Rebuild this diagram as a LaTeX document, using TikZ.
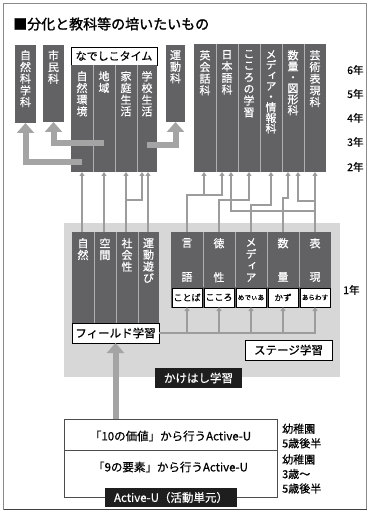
\documentclass[tikz,border=0pt]{standalone}
\usepackage{fontspec}
\setmainfont{Noto Sans CJK JP}
\newfontfamily\cjk[FakeBold=0.5]{Noto Sans CJK JP}
\newfontfamily\cjkv[RawFeature=+vert,FakeBold=0.6]{Noto Sans CJK JP}
\newfontfamily\cjkb[FakeBold=1.5]{Noto Sans CJK JP}
\usetikzlibrary{arrows.meta}
\definecolor{dk}{HTML}{626265}
\definecolor{panelc}{HTML}{D7D7D7}
\definecolor{thickc}{HTML}{A4A4A4}
\definecolor{thinc}{HTML}{9C9C9C}
\definecolor{divc}{HTML}{B0B0B0}
\definecolor{framec}{HTML}{8A8A8A}
\definecolor{blk}{HTML}{1E1E1E}
\newcommand\myfs[2]{\fontsize{#1}{#2}\selectfont}
\tikzset{
  dkbox/.style={fill=dk, draw=none, anchor=north west, inner sep=0pt, outer sep=0pt},
  vt/.style={text=white, font=\cjkv\myfs{11}{11.7}, align=center, anchor=north, inner sep=0pt},
  wbox/.style={fill=white, draw=black, line width=0.7pt, inner sep=0pt, outer sep=0pt, anchor=north west, font=\cjk\myfs{11.5}{12}},
  bbox/.style={fill=blk, text=white, inner sep=0pt, outer sep=0pt, anchor=north west, font=\cjk\myfs{11.5}{12}},
  lbox/.style={fill=white, draw=black, line width=0.6pt, inner sep=0pt, outer sep=0pt, anchor=north west, minimum width=30pt, minimum height=19pt},
  bigarr/.style={draw=thickc, line width=6pt, -{Triangle[width=17pt,length=10pt]}},
  conn/.style={draw=thinc, line width=1.8pt},
  conna/.style={conn, -{Triangle[width=5pt,length=4pt]}},
  divl/.style={draw=divc, line width=0.8pt},
  yr/.style={font=\cjk\myfs{10.5}{12}, anchor=west, inner sep=0pt},
  plain/.style={font=\cjk\myfs{11.5}{14.5}, inner sep=0pt},
}
\begin{document}
\begin{tikzpicture}[x=1pt,y=-1pt]
\useasboundingbox (0,0) rectangle (370,521);
\fill[white] (0,0) rectangle (370,521);
% frame
\draw[framec, line width=0.8pt] (3.5,3.5) rectangle (366.5,509.5);
\draw[blk!85, line width=1.4pt] (3.5,509.5) -- (366.5,509.5);
% title
\node[font=\cjkb\myfs{14}{16}, anchor=west, inner sep=0pt] (title) at (13,24) {■分化と教科等の培いたいもの};

% light panel
\fill[panelc] (64,223) rectangle (340,377);

% ---------- top-left boxes ----------
\node[dkbox, minimum width=21pt, minimum height=78pt] (sk) at (15,45) {};
\node[vt] (skT) at (25.5,50) {自\\然\\科\\学\\科};
\node[dkbox, minimum width=21pt, minimum height=77pt] (sm) at (43,45) {};
\node[vt] (smT) at (53.5,50) {市\\民\\科};
\node[wbox, minimum width=86pt, minimum height=18pt, font=\cjk\myfs{11}{12}] (nade) at (71,47) {なでしこタイム};
\node[dkbox, minimum width=22pt, minimum height=107pt] (kk) at (71,65) {};
\node[dkbox, minimum width=22pt, minimum height=107pt] (ci) at (93,65) {};
\node[dkbox, minimum width=22pt, minimum height=107pt] (ks) at (115,65) {};
\node[dkbox, minimum width=20pt, minimum height=107pt] (gs) at (137,65) {};
\draw[divl] (93,65) -- (93,172) (115,65) -- (115,172) (137,65) -- (137,172);
\node[vt] (kkT) at (82,71) {自\\然\\環\\境};
\node[vt] (ciT) at (104,71) {地\\域};
\node[vt] (ksT) at (126,71) {家\\庭\\生\\活};
\node[vt] (gsT) at (147,71) {学\\校\\生\\活};
\node[dkbox, minimum width=19pt, minimum height=77pt] (ud) at (166,45) {};
\node[vt] (udT) at (175.5,50) {運\\動\\科};

% ---------- top-right boxes ----------
\node[dkbox, minimum width=22pt, minimum height=128pt] (r1) at (194,44) {};
\node[dkbox, minimum width=22pt, minimum height=128pt] (r2) at (216,44) {};
\node[dkbox, minimum width=22pt, minimum height=128pt] (r3) at (238,44) {};
\node[dkbox, minimum width=22pt, minimum height=128pt] (r4) at (260,44) {};
\node[dkbox, minimum width=22pt, minimum height=128pt] (r5) at (282,44) {};
\node[dkbox, minimum width=22pt, minimum height=128pt] (r6) at (304,44) {};
\draw[divl] (216,44) -- (216,172) (238,44) -- (238,172) (260,44) -- (260,172)
            (282,44) -- (282,172) (304,44) -- (304,172);
\node[vt] (r1T) at (205,50) {英\\会\\話\\科};
\node[vt] (r2T) at (227,50) {日\\本\\語\\科};
\node[vt] (r3T) at (249,50) {こ\\こ\\ろ\\の\\学\\習};
\node[vt, font=\cjkv\myfs{11}{10.6}] (r4T) at (271,50) {メ\\デ\\ィ\\ア\\・\\情\\報\\科};
\node[vt, font=\cjkv\myfs{11}{11}] (r5T) at (293,50) {数\\量\\・\\図\\形\\科};
\node[vt] (r6T) at (315,50) {芸\\術\\表\\現\\科};

% year labels
\node[yr] (y6) at (347,70) {6年};
\node[yr] (y5) at (347,94) {5年};
\node[yr] (y4) at (347,118) {4年};
\node[yr] (y3) at (347,142) {3年};
\node[yr] (y2) at (347,167) {2年};
\node[yr] (y1) at (343,290) {1年};

% ---------- 1st year left ----------
\node[dkbox, minimum width=22pt, minimum height=91pt] (f1) at (72,232) {};
\node[dkbox, minimum width=22pt, minimum height=91pt] (f2) at (94,232) {};
\node[dkbox, minimum width=22pt, minimum height=91pt] (f3) at (116,232) {};
\node[dkbox, minimum width=21pt, minimum height=91pt] (f4) at (138,232) {};
\draw[divl] (94,232) -- (94,323) (116,232) -- (116,323) (138,232) -- (138,323);
\node[vt] (f1T) at (83,238) {自\\然};
\node[vt] (f2T) at (105,238) {空\\間};
\node[vt] (f3T) at (127,238) {社\\会\\性};
\node[vt] (f4T) at (148.5,238) {運\\動\\遊\\び};
\node[wbox, minimum width=87pt, minimum height=20pt] (field) at (72,323) {フィールド学習};

% ---------- 1st year right ----------
\node[dkbox, minimum width=32pt, minimum height=55pt] (s1) at (171,232) {};
\node[dkbox, minimum width=32pt, minimum height=55pt] (s2) at (203,232) {};
\node[dkbox, minimum width=32pt, minimum height=55pt] (s3) at (235,232) {};
\node[dkbox, minimum width=32pt, minimum height=55pt] (s4) at (267,232) {};
\node[dkbox, minimum width=32pt, minimum height=55pt] (s5) at (299,232) {};
\fill[dk] (171,287) rectangle (331,308);
\draw[divl] (203,232) -- (203,287) (235,232) -- (235,287) (267,232) -- (267,287) (299,232) -- (299,287);
\node[vt] (s1a) at (187,238) {言};
\node[vt] (s1b) at (187,272) {語};
\node[vt] (s2a) at (219,238) {徳};
\node[vt] (s2b) at (219,272) {性};
\node[vt] (s3a) at (251,238) {メ\\デ\\ィ\\ア};
\node[vt] (s4a) at (283,238) {数};
\node[vt] (s4b) at (283,272) {量};
\node[vt] (s5a) at (315,238) {表};
\node[vt] (s5b) at (315,272) {現};
\node[lbox, font=\cjk\myfs{9}{10}] (l1) at (172,288) {ことば};
\node[lbox, font=\cjk\myfs{9}{10}] (l2) at (204,288) {こころ};
\node[lbox, font=\cjk\myfs{6.6}{8}] (l3) at (236,288) {めでぃあ};
\node[lbox, font=\cjk\myfs{8.5}{10}] (l4) at (268,288) {かず};
\node[lbox, font=\cjk\myfs{6.6}{8}] (l5) at (300,288) {あらわす};

\node[wbox, minimum width=87pt, minimum height=20pt] (stage) at (245,340) {ステージ学習};
\node[bbox, minimum width=87pt, minimum height=20pt] (kake) at (155,368) {かけはし学習};

% ---------- Active-U ----------
\node[draw=black!70, line width=0.7pt, fill=white, anchor=north west, inner sep=0pt, outer sep=0pt, minimum width=213pt, minimum height=78pt] (au) at (64,419) {};
\draw[black!70, line width=0.7pt] (au.west |- 0,450) -- (au.east |- 0,450);
\node[plain] (au1) at (170.5,436) {「10の価値」から行うActive-U};
\node[plain] (au2) at (170.5,467) {「9の要素」から行うActive-U};
\node[bbox, minimum width=132pt, minimum height=19pt] (aulab) at (105,488) {Active-U（活動単元）};
\node[plain, align=left, anchor=west, font=\cjk\myfs{11}{14.5}] (k1) at (282,436) {幼稚園\\5歳後半};
\node[plain, align=left, anchor=west, font=\cjk\myfs{11}{14.5}] (k2) at (282,474) {幼稚園\\3歳～\\5歳後半};

% ---------- thick arrows ----------
\draw[bigarr] (kk.center |- 0,162) -| (sk.south);
\draw[bigarr] (ci.center |- 0,143) -| (sm.south);
\draw[bigarr] (gs.center |- 0,145) -| (ud.south);
\draw[bigarr] (au.north -| field.south) -- (field.south);

% ---------- thin connectors, left ----------
\coordinate (b1) at (82,172);
\coordinate (b2) at (104,172);
\coordinate (b3) at (126,172);
\coordinate (b4) at (142,172);
\coordinate (b5) at (148,172);
\draw[conna] (f1.north -| b1) -- (b1);
\draw[conna] (f2.north -| b2) -- (b2);
\draw[conna] (f3.north -| b3) -- (b3);
\draw[conna] (f3.north -| b3) -- ++(0,-32) -| (b4);
\draw[conna] (f4.north -| b5) -- (b5);

% ---------- thin connectors, right ----------
\coordinate (a1) at (204,172);
\coordinate (a2) at (222,172);
\coordinate (a3) at (231,172);
\coordinate (a4) at (249,172);
\coordinate (a5) at (271,172);
\coordinate (a6) at (288,172);
\coordinate (a7) at (298,172);
\coordinate (a8) at (315,172);
\coordinate (j1) at (204,195);
\coordinate (j2) at (315,201);
\coordinate (j3) at (315,211);
\draw[conna] (s1.north) -- ++(0,-37) -| (a2);
\draw[conna] (j1) -- (a1);
\draw[conna] (s2.north) -- ++(0,-32) -| (a4);
\draw[conna] (s3.north) -- ++(0,-27) -| (a5);
\draw[conna] (s4.north) -- ++(0,-34) -| (a6);
\draw[conna] (s5.north) -- (a8);
\draw[conna] (j2) -| (a7);
\draw[conna] (j3) -| (a3);

% ---------- distribution to stage labels ----------
\draw[conna] (field.east) -| (l5.south);
\draw[conna] (l1.south |- field.east) -- (l1.south);
\draw[conna] (l2.south |- field.east) -- (l2.south);
\draw[conna] (l3.south |- field.east) -- (l3.south);
\draw[conna] (l4.south |- field.east) -- (l4.south);
\end{tikzpicture}
\end{document}
